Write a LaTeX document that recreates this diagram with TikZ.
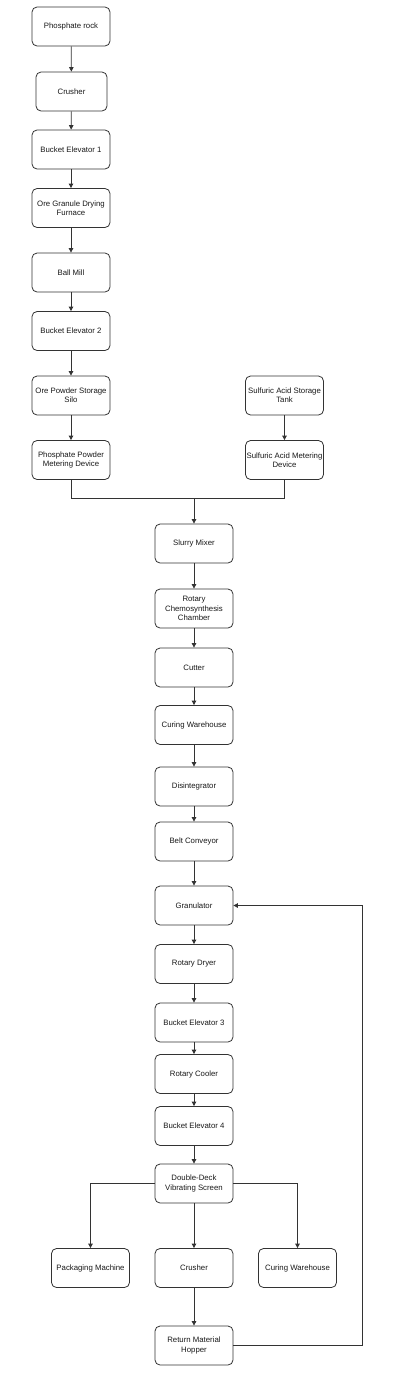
\documentclass[tikz,border=0pt]{standalone}
\usepackage{fontspec}
\setmainfont{Liberation Sans}
\usetikzlibrary{arrows.meta}
\begin{document}
\begin{tikzpicture}[x=1pt,y=-1pt,
  box/.style={draw=black!80,line width=0.8pt,rounded corners=5pt,fill=white,
    minimum width=78pt,minimum height=39pt,inner sep=1pt,align=center,
    font=\fontsize{7.8}{9.3}\selectfont,text=black!90},
  flow/.style={draw=black!80,line width=0.8pt,-{Triangle[length=4.5pt,width=4.5pt]}},
  line/.style={draw=black!80,line width=0.8pt}]
\useasboundingbox (0,0) rectangle (400,1377);
% left column
\node[box] (pr) at (71,26.5) {Phosphate rock};
\node[box,minimum width=71pt] (cr1) at (71.5,91.5) {Crusher};
\node[box] (be1) at (71,149.5) {Bucket Elevator 1};
\node[box] (ogdf) at (71,208) {Ore Granule Drying\\Furnace};
\node[box] (bm) at (71,272.5) {Ball Mill};
\node[box] (be2) at (71,331) {Bucket Elevator 2};
\node[box] (opss) at (71,395.5) {Ore Powder Storage\\Silo};
\node[box] (ppmd) at (71,460) {Phosphate Powder\\Metering Device};
% right column
\node[box] (sast) at (284.5,395.5) {Sulfuric Acid Storage\\Tank};
\node[box] (samd) at (284.5,460) {Sulfuric Acid Metering\\Device};
\coordinate (m) at (194,498);
% centre column
\node[box] (sm) at (194,543.5) {Slurry Mixer};
\node[box] (rcc) at (194,608.5) {Rotary\\Chemosynthesis\\Chamber};
\node[box] (cut) at (194,667.5) {Cutter};
\node[box] (cw1) at (194,725) {Curing Warehouse};
\node[box] (dis) at (194,786.5) {Disintegrator};
\node[box] (bc) at (194,841.5) {Belt Conveyor};
\node[box] (gr) at (194,905.5) {Granulator};
\node[box] (rd) at (194,964) {Rotary Dryer};
\node[box] (be3) at (194,1022.5) {Bucket Elevator 3};
\node[box] (rc) at (194,1074) {Rotary Cooler};
\node[box] (be4) at (194,1126) {Bucket Elevator 4};
\node[box] (dd) at (194,1183.5) {Double-Deck\\Vibrating Screen};
\node[box] (pm) at (90.5,1268) {Packaging Machine};
\node[box] (cr2) at (194,1268) {Crusher};
\node[box] (cw2) at (297.5,1268) {Curing Warehouse};
\node[box] (rmh) at (194,1345.5) {Return Material\\Hopper};
\coordinate (fb) at (362,1345.5);
% connectors
\draw[flow] (pr) -- (cr1);
\draw[flow] (cr1) -- (be1);
\draw[flow] (be1) -- (ogdf);
\draw[flow] (ogdf) -- (bm);
\draw[flow] (bm) -- (be2);
\draw[flow] (be2) -- (opss);
\draw[flow] (opss) -- (ppmd);
\draw[flow] (sast) -- (samd);
\draw[line] (ppmd.south) |- (m);
\draw[line] (samd.south) |- (m);
\draw[flow] (m) -- (sm);
\draw[flow] (sm) -- (rcc);
\draw[flow] (rcc) -- (cut);
\draw[flow] (cut) -- (cw1);
\draw[flow] (cw1) -- (dis);
\draw[flow] (dis) -- (bc);
\draw[flow] (bc) -- (gr);
\draw[flow] (gr) -- (rd);
\draw[flow] (rd) -- (be3);
\draw[flow] (be3) -- (rc);
\draw[flow] (rc) -- (be4);
\draw[flow] (be4) -- (dd);
\draw[flow] (dd.west) -| (pm.north);
\draw[flow] (dd) -- (cr2);
\draw[flow] (dd.east) -| (cw2.north);
\draw[flow] (cr2) -- (rmh);
\draw[flow] (rmh.east) -- (fb) |- (gr.east);
\end{tikzpicture}
\end{document}
